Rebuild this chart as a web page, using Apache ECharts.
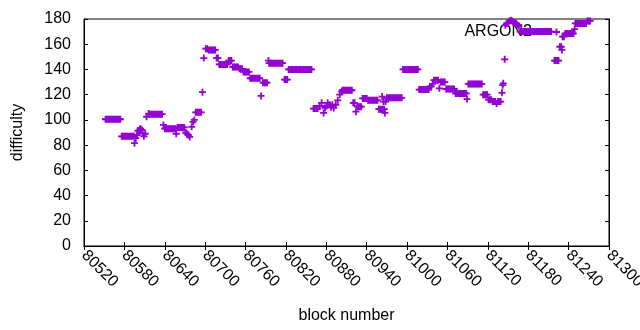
<!DOCTYPE html>
<html>
<head>
<meta charset="utf-8">
<script src="https://cdn.jsdelivr.net/npm/echarts@6/dist/echarts.min.js"></script>
<style>
html, body { margin: 0; padding: 0; background: #fff; }
#chart { width: 640px; height: 330px; }
</style>
</head>
<body>
<div id="chart"></div>
<script>
// ARGON2 difficulty per block
const blocks = [
  80552, 80554, 80556, 80558, 80560, 80562, 80564, 80566, 80568, 80570, 80572, 80574,
  80576, 80578, 80580, 80582, 80584, 80586, 80588, 80590, 80592, 80594,
  80595, 80597, 80599, 80600, 80602, 80603, 80604, 80606, 80607, 80609, 80611,
  80613, 80616, 80618, 80620, 80622, 80624, 80626, 80628, 80630, 80632, 80634, 80636, 80638,
  80640, 80642, 80644, 80646, 80648, 80650, 80652, 80654, 80656, 80657,
  80659, 80661, 80663, 80665, 80667, 80669, 80671, 80673, 80675, 80677, 80680, 80682, 80684,
  80686, 80688, 80690, 80692, 80694, 80696, 80698,
  80701, 80703, 80705, 80707, 80709, 80711, 80713, 80715, 80717, 80719,
  80721, 80723, 80725, 80727, 80729, 80731, 80733, 80735, 80737, 80739,
  80741, 80743, 80745, 80747, 80749, 80751, 80753, 80755,
  80757, 80759, 80761, 80763, 80765, 80767, 80769, 80771, 80773, 80775, 80777, 80779, 80781,
  80783, 80786, 80788, 80790, 80792, 80794,
  80795, 80797, 80799, 80801, 80803, 80805, 80807, 80809, 80811, 80813, 80815,
  80818, 80820, 80822,
  80824, 80826, 80828, 80830, 80832, 80834, 80836, 80838, 80840, 80842, 80844, 80846, 80848, 80850, 80852, 80854, 80856, 80858,
  80861, 80863, 80865, 80867, 80870, 80873, 80876, 80878, 80880, 80882, 80885, 80887, 80889, 80891, 80894, 80897, 80900, 80903,
  80904, 80906, 80908, 80910, 80912, 80914, 80916, 80918,
  80920, 80922, 80924, 80926, 80928, 80930, 80932,
  80934, 80936, 80938, 80940, 80942, 80944, 80946, 80948, 80950, 80952, 80954, 80956,
  80958, 80960, 80962, 80963, 80964, 80965, 80966, 80967, 80968,
  80970, 80972, 80974, 80976, 80978, 80980, 80982, 80984, 80986, 80988, 80990, 80992,
  80994, 80996, 80998, 81000, 81002, 81004, 81006, 81008, 81010, 81012, 81014, 81016,
  81018, 81020, 81022, 81024, 81026, 81028, 81030, 81032,
  81034, 81036, 81038, 81040, 81042, 81044, 81046, 81048,
  81050, 81052, 81054, 81056,
  81058, 81060, 81062, 81064, 81066, 81068, 81070,
  81072, 81074, 81076, 81078, 81080, 81082, 81084, 81086, 81088, 81089,
  81091, 81093, 81095, 81097, 81099, 81101, 81103, 81105, 81107, 81109, 81111,
  81113, 81115, 81117, 81119, 81121, 81123, 81125,
  81127, 81129, 81131, 81133, 81135, 81137, 81139,
  81141, 81142, 81143, 81145,
  81146, 81148, 81150, 81152, 81154, 81156, 81158, 81160, 81162, 81164, 81166,
  81168, 81170, 81172, 81174, 81176, 81178, 81180, 81182, 81184, 81186, 81188, 81190,
  81192, 81194, 81196, 81198, 81200, 81202, 81204, 81206, 81208, 81210, 81212, 81214,
  81219, 81221, 81223, 81225, 81227, 81229, 81230,
  81231, 81233, 81235, 81237, 81239, 81241, 81243, 81245, 81247, 81249,
  81250, 81252, 81254, 81256, 81258, 81260, 81262, 81264, 81266, 81268, 81270, 81272
];
const difficulty = [
  100.5, 100.5, 100.5, 100.5, 100.5, 100.5, 100.5, 100.5, 100.5, 100.5, 100.5, 100.5,
  87, 87, 87, 87, 87, 87, 87, 87, 87, 87,
  81.5, 85.5, 88, 91.5, 90, 92.5, 93, 92, 89.5, 87, 89,
  102.5, 105, 104.5, 104.5, 104.5, 104.5, 104.5, 104.5, 104.5, 104.5, 104.5, 104.5, 96,
  93, 93, 93, 93, 93, 93, 93, 93, 93, 89,
  94, 94, 94, 94, 94, 94, 90, 89, 88, 86.5, 94.5, 98.5, 100,
  106, 106, 106, 106, 106, 122, 149,
  156.5, 156.5, 155.5, 155.5, 155.5, 155.5, 155.5, 155.5, 149, 149,
  144, 144, 144, 144, 144, 144, 144, 147, 147, 147,
  142, 142, 142, 142, 142, 140.5, 140.5, 140.5,
  138, 138, 138, 138, 138, 133, 133, 133, 133, 133, 133, 133, 133,
  119, 129.5, 129.5, 129.5, 129.5, 147,
  145, 145, 145, 145, 145, 145, 145, 145, 145, 145, 145,
  132, 132, 132,
  140, 140, 140, 140, 140, 140, 140, 140, 140, 140, 140, 140, 140, 140, 140, 140, 140, 140,
  109, 109, 109, 109, 111, 113.5, 105.5, 109.5, 111, 113.5, 112, 110, 112, 109.5, 112, 115.5, 120, 122.5,
  123.5, 123.5, 123.5, 123.5, 123.5, 123.5, 123.5, 123.5,
  113.5, 113.5, 106.5, 110.5, 110.5, 110.5, 110.5,
  117, 117, 117, 117, 115.5, 115.5, 115.5, 115.5, 115.5, 115.5, 115.5, 115.5,
  108.5, 108.5, 108.5, 118.5, 108.5, 114.5, 108.5, 105.5, 114.5,
  117.5, 117.5, 117.5, 117.5, 117.5, 117.5, 117.5, 117.5, 117.5, 117.5, 117.5, 117.5,
  140, 140, 140, 140, 140, 140, 140, 140, 140, 140, 140, 140,
  124, 124, 124, 124, 124, 124, 124, 124,
  126.5, 126.5, 128.5, 131.5, 131.5, 131.5, 131.5, 125,
  130, 130, 130, 130,
  124.5, 124.5, 124.5, 124.5, 124.5, 124.5, 124.5,
  121, 121, 121, 121, 121, 121, 121, 121, 121, 116.5,
  128.5, 128.5, 128.5, 128.5, 128.5, 128.5, 128.5, 128.5, 128.5, 128.5, 128.5,
  120, 120, 120, 120, 116, 116, 116,
  114.5, 114.5, 114.5, 113, 114.5, 114.5, 114.5,
  121.5, 127.5, 129, 148,
  175, 176.5, 177, 178.5, 179, 178.5, 177, 177, 176.5, 175.5, 174.5,
  170, 170, 170, 170, 170, 170, 170, 170, 170, 170, 170, 170,
  170, 170, 170, 170, 170, 170, 170, 170, 170, 170, 170, 170,
  147, 147, 147, 147, 158, 158, 155.5,
  166, 166, 168.5, 168.5, 168.5, 168.5, 168.5, 168.5, 168.5, 172,
  176.5, 176.5, 176.5, 176.5, 176.5, 176.5, 176.5, 176.5, 176.5, 178.5, 178.5, 178.5
];
const seriesName = 'ARGON2';

const FONT = 'Liberation Sans';
const plus = 'path://M2.6,0H4.4V2.6H7V4.4H4.4V7H2.6V4.4H0V2.6H2.6Z';
const black = { color: '#000', width: 1 };

const chart = echarts.init(document.getElementById('chart'));
const option = {
  animation: false,
  grid: {
    left: 84, right: 31, top: 19, bottom: 84,
    outerBoundsMode: 'none',
    show: true, borderColor: '#000', borderWidth: 1
  },
  legend: {
    data: [seriesName],
    right: 80,
    top: 24,
    padding: 0,
    z: 1,
    align: 'right',
    icon: plus,
    itemWidth: 7,
    itemHeight: 7,
    selectedMode: false,
    textStyle: { fontFamily: FONT, fontSize: 16, color: '#000', padding: [0, 16, 0, 0] }
  },
  xAxis: [{
    type: 'value', min: 80520, max: 81300, interval: 60,
    name: 'block number', nameLocation: 'middle', nameGap: 62,
    nameTextStyle: { fontFamily: FONT, fontSize: 16, color: '#000' },
    axisLine: { show: true, lineStyle: black },
    axisTick: { show: true, inside: true, length: 4, lineStyle: black },
    axisLabel: { rotate: -45, margin: 7, fontFamily: FONT, fontSize: 16, color: '#000', formatter: v => String(v) },
    splitLine: { show: false }
  }, {
    type: 'value', position: 'top', min: 80520, max: 81300, interval: 60,
    axisLine: { show: true, lineStyle: black },
    axisTick: { show: true, inside: true, length: 4, lineStyle: black },
    axisLabel: { show: false },
    splitLine: { show: false }
  }],
  yAxis: [{
    type: 'value', min: 0, max: 180, interval: 20,
    name: 'difficulty', nameLocation: 'middle', nameGap: 58,
    nameTextStyle: { fontFamily: FONT, fontSize: 16, color: '#000' },
    axisLine: { show: true, lineStyle: black },
    axisTick: { show: true, inside: true, length: 4, lineStyle: black },
    axisLabel: { margin: 13, fontFamily: FONT, fontSize: 16, color: '#000' },
    splitLine: { show: false }
  }, {
    type: 'value', position: 'right', min: 0, max: 180, interval: 20,
    axisLine: { show: true, lineStyle: black },
    axisTick: { show: true, inside: true, length: 4, lineStyle: black },
    axisLabel: { show: false },
    splitLine: { show: false }
  }],
  series: [{
    name: seriesName,
    type: 'scatter',
    xAxisIndex: 0,
    yAxisIndex: 0,
    symbol: plus,
    symbolSize: 7,
    clip: false,
    z: 3,
    itemStyle: { color: '#9400d3', opacity: 1 },
    data: blocks.map((b, i) => [b, difficulty[i]])
  }]
};
chart.setOption(option);
</script>
</body>
</html>
